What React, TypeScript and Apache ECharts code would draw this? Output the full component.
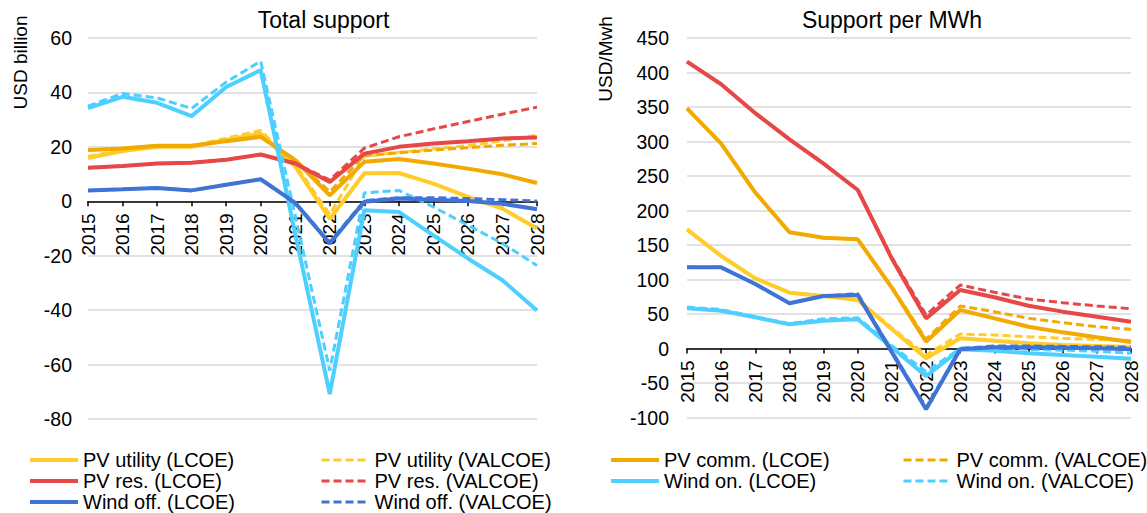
import React, { useEffect, useRef } from "react";
import * as echarts from "echarts";

const years = ["2015", "2016", "2017", "2018", "2019", "2020", "2021", "2022", "2023", "2024", "2025", "2026", "2027", "2028"];

// Total support (USD billion)
const pvUtilLcoeTotal = [15.9, 18.5, 20.0, 20.0, 22.5, 24.9, 12.8, -6.5, 10.3, 10.4, 6.5, 1.6, -2.7, -10.0];
const pvUtilValTotal = [16.5, 18.8, 20.2, 20.3, 23.2, 26.0, 13.5, -4.8, 16.5, 18.0, 19.2, 20.5, 22.2, 24.3];
const pvCommLcoeTotal = [18.8, 19.4, 20.4, 20.4, 22.1, 23.7, 15.1, 2.2, 14.5, 15.5, 13.9, 12.0, 9.9, 6.7];
const pvCommValTotal = [18.8, 19.4, 20.4, 20.4, 22.1, 23.7, 15.3, 3.5, 16.8, 17.8, 18.8, 19.7, 20.6, 21.2];
const pvResLcoeTotal = [12.3, 13.0, 13.9, 14.2, 15.3, 17.2, 13.9, 7.1, 17.5, 20.0, 21.2, 22.1, 23.1, 23.4];
const pvResValTotal = [12.3, 13.0, 13.9, 14.2, 15.3, 17.2, 14.0, 7.8, 19.5, 23.7, 26.6, 29.3, 32.0, 34.6];
const windOnLcoeTotal = [34.2, 38.4, 36.2, 31.3, 42.0, 48.2, -12.0, -70.8, -3.3, -3.9, -12.5, -21.0, -29.0, -40.1];
const windOnValTotal = [35.0, 39.6, 38.0, 34.1, 43.8, 51.5, -5.3, -62.2, 3.1, 4.0, -2.1, -8.8, -15.5, -23.6];
const windOffLcoeTotal = [4.0, 4.4, 4.9, 4.0, 6.1, 8.1, -0.6, -15.5, -0.2, 1.0, 0.6, 0.1, -0.9, -2.9];
const windOffValTotal = [4.0, 4.4, 4.9, 4.0, 6.1, 8.1, -0.5, -15.0, 0.2, 1.3, 1.3, 1.0, 0.6, 0.1];

// Support per MWh (USD/MWh)
const pvUtilLcoePer = [172.7, 134, 101.7, 80.9, 76, 70.3, 28, -14.2, 14.8, 11.3, 7.5, 5, 3.6, 2];
const pvUtilValPer = [172.7, 134, 101.7, 80.9, 76, 70.3, 30, -9.4, 21, 19.6, 17.1, 14.8, 13.3, 11.4];
const pvCommLcoePer = [348, 297, 226, 168.4, 160.6, 158.2, 88, 9.9, 55.8, 43.7, 31.6, 23.4, 16.2, 9.4];
const pvCommValPer = [348, 297, 226, 168.4, 160.6, 158.2, 89, 13.3, 61.6, 53.4, 43.7, 37.4, 31.6, 27.8];
const pvResLcoePer = [415.7, 383, 341, 303, 268, 229.7, 130, 43.7, 84.8, 74.2, 62, 53.4, 46.1, 38.9];
const pvResValPer = [415.7, 383, 341, 303, 268, 229.7, 132, 48.6, 92, 81.4, 71.7, 66.4, 61.6, 57.7];
const windOnLcoePer = [58.2, 54.8, 45.2, 35, 40.3, 42.3, 1.5, -40, -1.2, -3.2, -7, -9.4, -11.8, -14.7];
const windOnValPer = [60, 56.5, 46, 36, 43, 44.5, 4, -33.6, 0.2, 2, -1.2, -2.5, -4, -7];
const windOffLcoePer = [117.6, 117.6, 93.5, 65.5, 76, 77.5, -5.6, -88, -1.2, 1.7, 1.7, 1.2, 0.2, -1.2];
const windOffValPer = [117.6, 117.6, 93.5, 65.5, 76, 79.5, -4, -86, 0, 3.6, 3.6, 3, 2.5, 1.7];

const seriesNames = [
  "PV utility (LCOE)", "PV utility (VALCOE)",
  "PV comm. (LCOE)", "PV comm. (VALCOE)",
  "PV res. (LCOE)", "PV res. (VALCOE)",
  "Wind on. (LCOE)", "Wind on. (VALCOE)",
  "Wind off. (LCOE)", "Wind off. (VALCOE)",
];
const seriesColors = ["#FFCC29", "#FFCC29", "#F2A900", "#F2A900", "#E64848", "#E64848", "#4DCFFF", "#4DCFFF", "#3F74D6", "#3F74D6"];
const totalData = [pvUtilLcoeTotal, pvUtilValTotal, pvCommLcoeTotal, pvCommValTotal, pvResLcoeTotal, pvResValTotal, windOnLcoeTotal, windOnValTotal, windOffLcoeTotal, windOffValTotal];
const perData = [pvUtilLcoePer, pvUtilValPer, pvCommLcoePer, pvCommValPer, pvResLcoePer, pvResValPer, windOnLcoePer, windOnValPer, windOffLcoePer, windOffValPer];

const FONT = "'Liberation Sans', Arial, sans-serif";

export default function App() {
  const ref = useRef<HTMLDivElement>(null);
  useEffect(() => {
    if (!ref.current) return;
    const chart = echarts.init(ref.current, null, { renderer: "svg" });

    const mkSeries = (data: number[][], axisIndex: number) =>
      data.map((d, i) => {
        const dashed = i % 2 === 1;
        return {
          type: "line",
          name: seriesNames[i],
          data: d,
          xAxisIndex: axisIndex,
          yAxisIndex: axisIndex,
          symbol: "none",
          color: seriesColors[i],
          lineStyle: { color: seriesColors[i], width: dashed ? 3 : 4, type: dashed ? [8, 4] : "solid" },
          itemStyle: { color: seriesColors[i] },
        };
      });

    const xAxisBase = (gridIndex: number, offset: number) => ({
      gridIndex,
      type: "category",
      data: years,
      position: "bottom",
      offset,
      boundaryGap: false,
      axisLine: { onZero: false, lineStyle: { color: "#000", width: 1.5 } },
      axisTick: { show: true, length: 5, lineStyle: { color: "#000", width: 1.5 } },
      axisLabel: { rotate: 90, interval: 0, fontSize: 19, color: "#000", margin: 12, fontFamily: FONT },
      splitLine: { show: false },
    });

    const legendBase = (left: number, data: string[]) => ({
      orient: "vertical",
      left,
      top: 450,
      padding: 0,
      itemGap: 1,
      itemWidth: 48,
      itemHeight: 14,
      itemStyle: { opacity: 0 },
      lineStyle: { width: "inherit" },
      data,
      textStyle: { fontSize: 20, color: "#000", fontFamily: FONT, lineHeight: 20 },
    });

    chart.setOption({
      animation: false,
      backgroundColor: "#fff",
      textStyle: { fontFamily: FONT },
      grid: [
        { left: 88, top: 38, width: 449, height: 381 },
        { left: 687, top: 38, width: 444, height: 379.5 },
      ],
      xAxis: [xAxisBase(0, -217.7), xAxisBase(1, -69)],
      yAxis: [
        {
          gridIndex: 0, type: "value", min: -80, max: 60, interval: 20,
          axisLine: { show: false }, axisTick: { show: false },
          axisLabel: { fontSize: 19.5, color: "#000", margin: 16, fontFamily: FONT },
          splitLine: { lineStyle: { color: "#D9D9D9", width: 1.5 } },
        },
        {
          gridIndex: 1, type: "value", min: -100, max: 450, interval: 50,
          axisLine: { show: false }, axisTick: { show: false },
          axisLabel: { fontSize: 19.5, color: "#000", margin: 18, fontFamily: FONT },
          splitLine: { lineStyle: { color: "#D9D9D9", width: 1.5 } },
        },
      ],
      legend: [
        legendBase(28, ["PV utility (LCOE)", "PV res. (LCOE)", "Wind off. (LCOE)"]),
        legendBase(320, ["PV utility (VALCOE)", "PV res. (VALCOE)", "Wind off. (VALCOE)"]),
        legendBase(609, ["PV comm. (LCOE)", "Wind on. (LCOE)"]),
        legendBase(902, ["PV comm. (VALCOE)", "Wind on. (VALCOE)"]),
      ],
      graphic: [
        { type: "text", x: 323.5, y: 20, style: { text: "Total support", align: "center", verticalAlign: "middle", fontSize: 23, fill: "#000", fontFamily: FONT } },
        { type: "text", x: 892, y: 20, style: { text: "Support per MWh", align: "center", verticalAlign: "middle", fontSize: 23, fill: "#000", fontFamily: FONT } },
        { type: "text", x: 20, y: 62.5, rotation: Math.PI / 2, style: { text: "USD billion", align: "center", verticalAlign: "middle", fontSize: 19, fill: "#000", fontFamily: FONT } },
        { type: "text", x: 605, y: 59, rotation: Math.PI / 2, style: { text: "USD/Mwh", align: "center", verticalAlign: "middle", fontSize: 19, fill: "#000", fontFamily: FONT } },
      ],
      series: [...mkSeries(totalData, 0), ...mkSeries(perData, 1)],
    });

    return () => chart.dispose();
  }, []);

  return (
    <div
      ref={ref}
      style={{ position: "fixed", left: 0, top: 0, width: 1147, height: 513, background: "#fff" }}
    />
  );
}
